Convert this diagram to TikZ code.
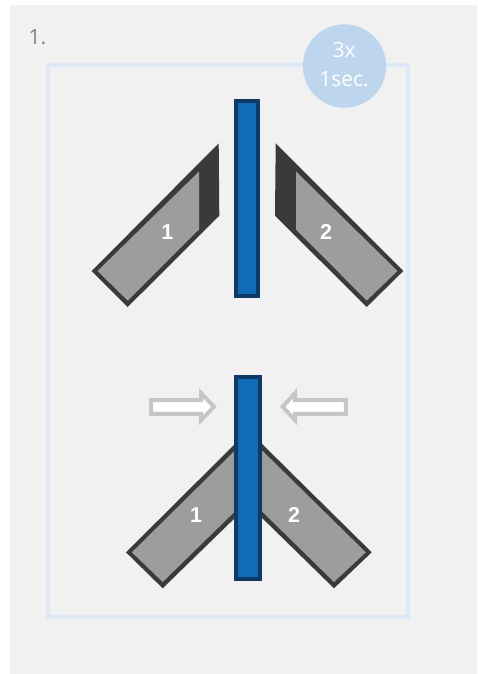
\documentclass[tikz,border=0pt]{standalone}
\usepackage{fontspec}
\setmainfont{Open Sans}
\newfontfamily\labelfont{Liberation Sans}
\definecolor{panelgray}{HTML}{F1F1F1}
\definecolor{framecol}{HTML}{DDE9F6}
\definecolor{badgecol}{HTML}{BDD6EE}
\definecolor{barfill}{HTML}{0F6CB5}
\definecolor{barline}{HTML}{0F3A66}
\definecolor{bladedark}{HTML}{3A3A38}
\definecolor{bladegray}{HTML}{9D9D9C}
\definecolor{arrowline}{HTML}{C6C6C6}
\tikzset{
  bladeouter/.style={fill=bladedark},
  bladeinner/.style={fill=bladegray},
  barbox/.style={draw=barline,fill=barfill,line width=4pt,miter limit=10},
  hollowarrow/.style={draw=arrowline,fill=white,line width=4pt,miter limit=10},
  bladelabel/.style={text=white,inner sep=0pt,font=\labelfont\bfseries\fontsize{21.5}{24}\selectfont},
  badgetext/.style={text=white,inner sep=0pt,font=\fontsize{21}{24}\selectfont},
}
\begin{document}
\begin{tikzpicture}[x=1pt,y=-1pt]
\useasboundingbox (0,0) rectangle (477,674);
\fill[white] (0,0) rectangle (477,674);
\fill[panelgray] (10,5) rectangle (477,674);
\draw[framecol,line width=4pt] (48,65) rectangle (408,617);
\node[circle,fill=badgecol,minimum size=83.4pt,inner sep=0pt] (badge) at (344.5,66) {};
\node[badgetext] (badgetop) at (344,50) {3x};
\node[badgetext] (badgebottom) at (344,79) {1sec.};
\node[anchor=base west,inner sep=0pt,text=black!50,font=\fontsize{21}{24}\selectfont] (number) at (28.5,44.5) {1.};
% top pair
\fill[bladeouter] (91.7,271) -- (127.7,307) -- (219.3,215.7) -- (218.7,143.3) -- cycle;
\fill[bladeinner] (97.5,271) -- (127.7,300.6) -- (199,229.5) -- (199,171.5) -- cycle;
\fill[bladeouter] (403.3,271) -- (366.7,307) -- (275,215.7) -- (275.7,143.3) -- cycle;
\fill[bladeinner] (397.5,271) -- (366.7,300.6) -- (296,229.5) -- (296,171.5) -- cycle;
\draw[barbox] (235.5,101) rectangle (258.3,296.3);
\node[bladelabel] (topone) at (167.3,231.7) {1};
\node[bladelabel] (toptwo) at (326,231.7) {2};
% bottom pair
\fill[bladeouter] (126,552.3) -- (162.7,588.3) -- (240,513) -- (240,439) -- cycle;
\fill[bladeinner] (131.9,552.3) -- (162.7,582) -- (240,506.5) -- (240,445.5) -- cycle;
\fill[bladeouter] (371.7,552.3) -- (334,588.3) -- (257,513) -- (257,439) -- cycle;
\fill[bladeinner] (365.8,552.3) -- (334,582) -- (257,506.5) -- (257,445.5) -- cycle;
\draw[barbox] (236.3,377.3) rectangle (260.3,578.7);
\node[bladelabel] (bottomone) at (196,515) {1};
\node[bladelabel] (bottomtwo) at (294,515) {2};
% arrows
\draw[hollowarrow] (151.2,400) -- (201.2,400) -- (201.2,393.2) -- (214,406.8) -- (201.2,420) -- (201.2,413.8) -- (151.2,413.8) -- cycle;
\draw[hollowarrow] (345.8,400) -- (295,400) -- (295,393.2) -- (282.6,406.8) -- (295,420) -- (295,413.8) -- (345.8,413.8) -- cycle;
\end{tikzpicture}
\end{document}
